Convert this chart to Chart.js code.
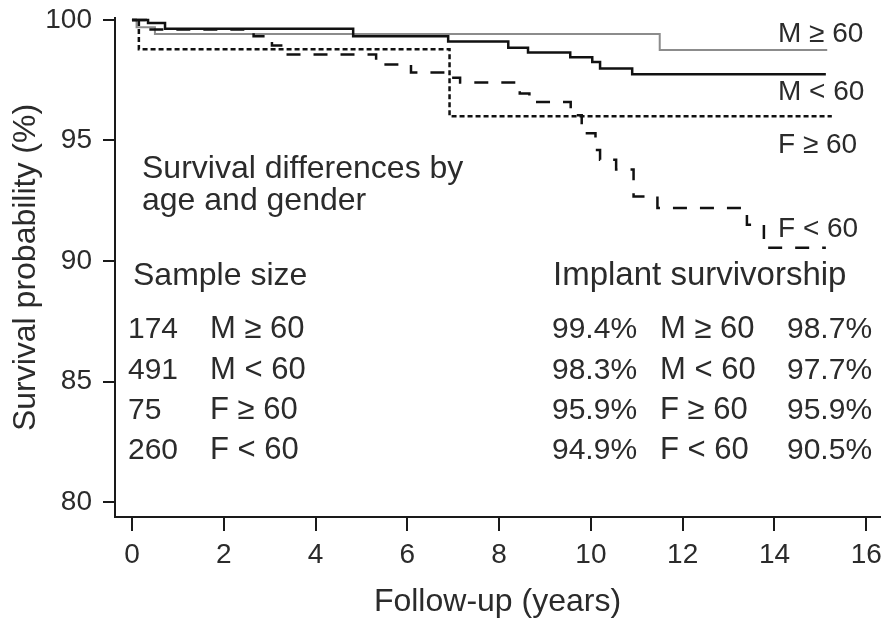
<!DOCTYPE html>
<html>
<head>
<meta charset="utf-8">
<title>Survival differences by age and gender</title>
<script src="https://cdn.jsdelivr.net/npm/chart.js@4.4.1/dist/chart.umd.min.js"></script>
<style>
  html, body { margin: 0; padding: 0; background: #fff; }
  #wrap { width: 886px; height: 625px; }
</style>
</head>
<body>
<div id="wrap"><canvas id="survChart" width="886" height="625"></canvas></div>
<script>
// Kaplan-Meier curves (years, survival %)
const xTicks = [0, 2, 4, 6, 8, 10, 12, 14, 16];
const yTicks = [80, 85, 90, 95, 100];

const mOldYears = [0, 0.1, 0.5, 11.5, 15.15];
const mOldSurv  = [100, 99.7, 99.42, 98.75, 98.75];

const mYoungYears = [0, 0.35, 0.72, 4.82, 6.89, 8.2, 8.63, 9.55, 10.03, 10.2, 10.9, 15.12];
const mYoungSurv  = [100, 99.87, 99.63, 99.32, 99.1, 98.85, 98.65, 98.45, 98.25, 97.98, 97.75, 97.75];

const fOldYears = [0, 0.15, 6.92, 15.25];
const fOldSurv  = [100, 98.78, 96.0, 96.0];

const fYoungYears = [0, 0.3, 2.65, 3.05, 3.3, 5.32, 6.08, 6.95, 7.15, 8.45, 8.66, 9.56, 9.8, 10.1, 10.2, 10.55, 10.93, 11.45, 13.4, 13.77, 15.12];
const fYoungSurv  = [100, 99.6, 99.32, 98.94, 98.57, 98.15, 97.82, 97.6, 97.4, 96.95, 96.6, 96.05, 95.3, 94.6, 94.2, 93.8, 92.68, 92.2, 91.5, 90.55, 90.55];

// table texts
const groups      = ['M \u2265 60', 'M < 60', 'F \u2265 60', 'F < 60'];
const sampleSizes = ['174', '491', '75', '260'];
const survAt10    = ['99.4%', '98.3%', '95.9%', '94.9%'];
const survAt15    = ['98.7%', '97.7%', '95.9%', '90.5%'];

const FONT = '"Liberation Sans", Arial, Helvetica, sans-serif';
const TEXT = '#2b2b2b';
const AXIS = '#1a1a1a';

const toPoints = (xs, ys) => xs.map((t, i) => ({ x: t, y: ys[i] }));

// texts inside the plot (labels at curve ends + the two little tables)
const textLayer = {
  id: 'textLayer',
  afterDatasetsDraw(chart) {
    const ctx = chart.ctx;
    ctx.save();
    ctx.fillStyle = TEXT;
    ctx.textAlign = 'left';
    ctx.textBaseline = 'alphabetic';

    // curve end labels
    ctx.font = '28px ' + FONT;
    const endLabelY = [42, 100, 153, 237];
    groups.forEach((g, i) => ctx.fillText(g, 778, endLabelY[i]));

    // headings
    ctx.font = '32px ' + FONT;
    ctx.fillText('Survival differences by', 142, 178);
    ctx.fillText('age and gender', 142, 210);
    ctx.fillText('Sample size', 133, 285);
    ctx.font = '33px ' + FONT;
    ctx.fillText('Implant survivorship', 553, 285);

    // rows
    const rowY = [338, 379, 419, 459];
    ctx.font = '30px ' + FONT;
    rowY.forEach((y, i) => {
      ctx.fillText(sampleSizes[i], 128, y);
      ctx.fillText(survAt10[i], 552, y);
      ctx.fillText(survAt15[i], 787, y);
    });
    ctx.font = '31px ' + FONT;
    rowY.forEach((y, i) => {
      ctx.fillText(groups[i], 210, y);
      ctx.fillText(groups[i], 660, y);
    });
    ctx.restore();
  }
};

const datasets = [
  { label: groups[0], data: toPoints(mOldYears, mOldSurv), borderColor: '#8c8c8c', borderWidth: 2, order: 4 },
  { label: groups[1], data: toPoints(mYoungYears, mYoungSurv), borderColor: '#111', borderWidth: 2.5, order: 1 },
  { label: groups[2], data: toPoints(fOldYears, fOldSurv), borderColor: '#111', borderWidth: 2.5, borderDash: [5, 3], order: 3 },
  { label: groups[3], data: toPoints(fYoungYears, fYoungSurv), borderColor: '#111', borderWidth: 2.5, borderDash: [14, 13], order: 2 }
].map(d => Object.assign({ stepped: true, pointRadius: 0, fill: false, tension: 0 }, d));

new Chart(document.getElementById('survChart'), {
  type: 'line',
  data: { datasets },
  options: {
    responsive: false,
    animation: false,
    devicePixelRatio: 1,
    layout: { padding: { top: 18, right: 6, left: 0, bottom: 0 } },
    plugins: { legend: { display: false }, tooltip: { enabled: false } },
    scales: {
      x: {
        type: 'linear',
        min: -0.37,
        max: 16.3,
        afterBuildTicks: s => { s.ticks = xTicks.map(v => ({ value: v })); },
        afterFit: s => { s.height = 108; s.paddingLeft = 0; s.paddingRight = 0; },
        grid: { drawOnChartArea: false, drawTicks: true, tickLength: 14, color: AXIS, lineWidth: 2 },
        border: { display: true, color: AXIS, width: 2 },
        ticks: { color: TEXT, font: { size: 28, family: FONT }, padding: 7, maxRotation: 0 },
        title: { display: true, text: 'Follow-up (years)', color: TEXT, font: { size: 32, family: FONT }, padding: { top: 0, bottom: 4 } }
      },
      y: {
        type: 'linear',
        min: 79.38,
        max: 100.08,
        afterBuildTicks: s => { s.ticks = yTicks.map(v => ({ value: v })); },
        afterFit: s => { s.width = 115; s.paddingTop = 0; s.paddingBottom = 0; },
        grid: { drawOnChartArea: false, drawTicks: true, tickLength: 12, color: AXIS, lineWidth: 2 },
        border: { display: true, color: AXIS, width: 2 },
        ticks: { color: TEXT, font: { size: 28, family: FONT }, padding: 11 },
        title: { display: true, text: 'Survival probability (%)', color: TEXT, font: { size: 32, family: FONT }, padding: { top: 7, bottom: 0 } }
      }
    }
  },
  plugins: [textLayer]
});
</script>
</body>
</html>
